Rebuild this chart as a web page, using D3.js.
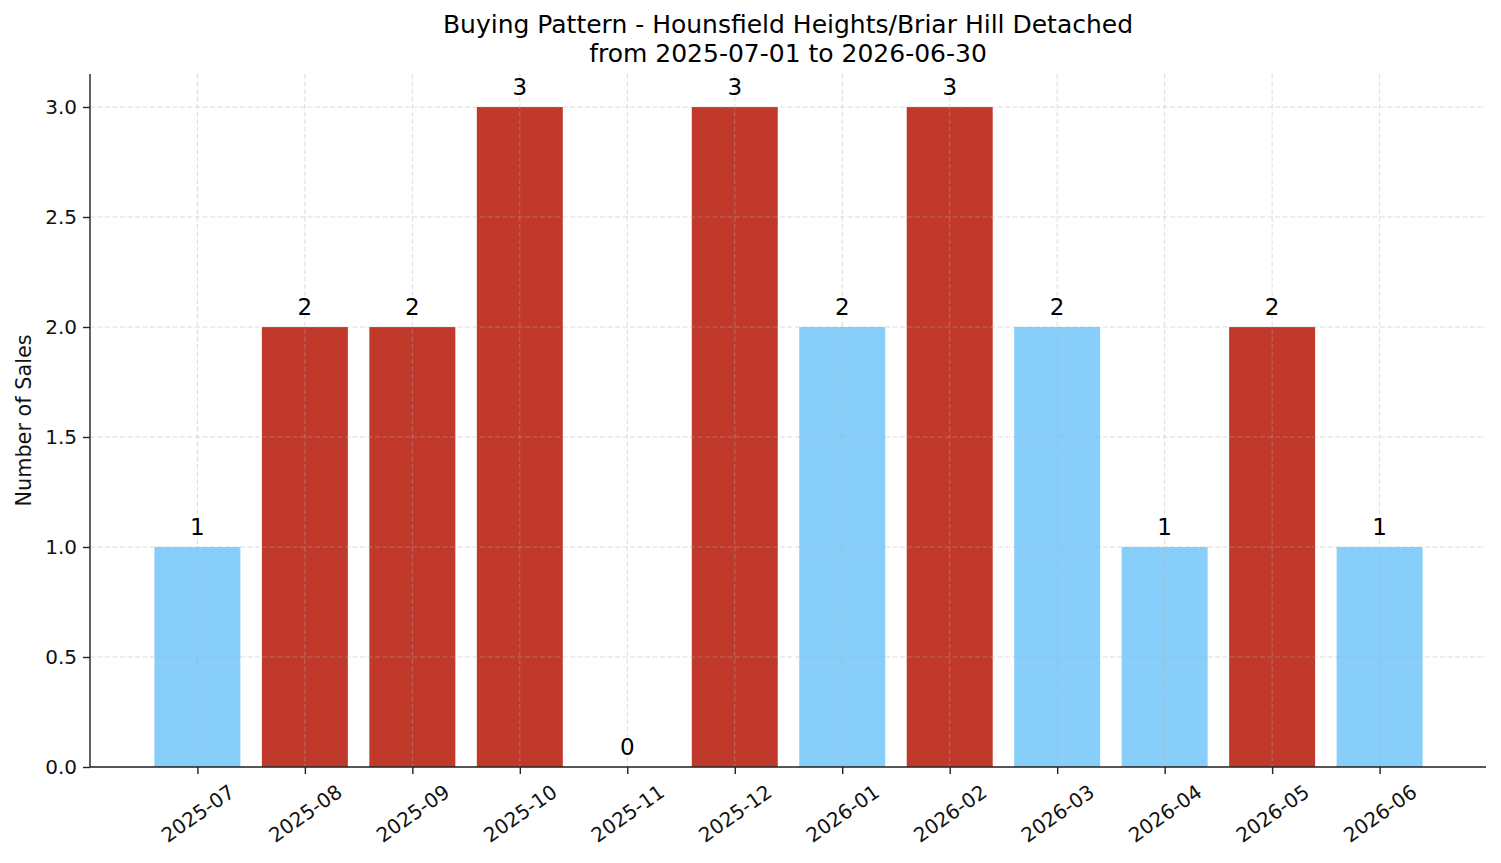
<!DOCTYPE html>
<html>
<head>
<meta charset="utf-8">
<script src="https://cdn.jsdelivr.net/npm/d3@7"></script>
<style>
  body { margin: 0; background: #fff; }
  svg { font-family: "DejaVu Sans", sans-serif; }
</style>
</head>
<body>
<div id="wrapper"></div>
<script>
const months = ["2025-07","2025-08","2025-09","2025-10","2025-11","2025-12",
                "2026-01","2026-02","2026-03","2026-04","2026-05","2026-06"]
const sales = [1, 2, 2, 3, 0, 3, 2, 3, 2, 1, 2, 1]
const barColors = ["#87cefa","#c0392b","#c0392b","#c0392b","#c0392b","#c0392b",
                   "#87cefa","#c0392b","#87cefa","#87cefa","#c0392b","#87cefa"]
const yTicks = [0, 0.5, 1, 1.5, 2, 2.5, 3]
const titleLines = ["Buying Pattern - Hounsfield Heights/Briar Hill Detached",
                    "from 2025-07-01 to 2026-06-30"]
const yLabel = "Number of Sales"

function drawBarChart() {
    let dimensions = {
        width: 1501,
        height: 863,
        margin: { top: 74, right: 15, bottom: 96, left: 90 },
    }
    dimensions.boundedWidth = dimensions.width - dimensions.margin.left - dimensions.margin.right
    dimensions.boundedHeight = dimensions.height - dimensions.margin.top - dimensions.margin.bottom
    const tickFont = 20

    const wrapper = d3.select("#wrapper")
        .append("svg")
            .attr("width", dimensions.width)
            .attr("height", dimensions.height)
    const bounds = wrapper.append("g")
        .attr("transform", `translate(${dimensions.margin.left},${dimensions.margin.top})`)

    // scales (matplotlib-style margins)
    const n = months.length
    const barWidth = 0.8
    const span = (n - 1) + barWidth
    const xScale = d3.scaleLinear()
        .domain([-barWidth / 2 - span * 0.05, n - 1 + barWidth / 2 + span * 0.05])
        .range([1, dimensions.boundedWidth])
    const yScale = d3.scaleLinear()
        .domain([0, d3.max(sales) * 1.05])
        .range([dimensions.boundedHeight, 0])

    // bars
    const pxPerUnit = xScale(1) - xScale(0)
    bounds.append("g").selectAll("rect")
        .data(sales)
        .join("rect")
            .attr("x", (d, i) => xScale(i - barWidth / 2))
            .attr("width", barWidth * pxPerUnit)
            .attr("y", d => yScale(d))
            .attr("height", d => yScale(0) - yScale(d))
            .attr("fill", (d, i) => barColors[i])

    // grid (drawn above bars like matplotlib default)
    const grid = bounds.append("g")
        .attr("stroke", "#b0b0b0")
        .attr("stroke-opacity", 0.55)
        .attr("stroke-width", 0.8)
        .attr("stroke-dasharray", "5,2.5")
    grid.selectAll(".gx").data(d3.range(n)).join("line")
        .attr("x1", d => xScale(d)).attr("x2", d => xScale(d))
        .attr("y1", 0).attr("y2", dimensions.boundedHeight)
    grid.selectAll(".gy").data(yTicks).join("line")
        .attr("y1", d => yScale(d)).attr("y2", d => yScale(d))
        .attr("x1", 0).attr("x2", dimensions.boundedWidth)

    // bar labels
    bounds.append("g").selectAll("text")
        .data(sales)
        .join("text")
            .attr("x", (d, i) => xScale(i))
            .attr("y", d => yScale(d) - 12.5)
            .attr("text-anchor", "middle")
            .attr("font-size", 23)
            .attr("fill", "#000")
            .text(d => d)

    // axes
    const yAxis = bounds.append("g")
        .call(d3.axisLeft(yScale).tickValues(yTicks).tickFormat(d3.format(".1f"))
            .tickSize(7).tickPadding(6))
    const xAxis = bounds.append("g")
        .attr("transform", `translate(0,${dimensions.boundedHeight})`)
        .call(d3.axisBottom(xScale).tickValues(d3.range(n)).tickFormat(i => months[i])
            .tickSize(7).tickPadding(7))
    ;[xAxis, yAxis].forEach(ax => {
        ax.select(".domain").attr("stroke", "#222").attr("stroke-width", 1.4)
        ax.selectAll(".tick line").attr("stroke", "#222").attr("stroke-width", 1.4)
        ax.selectAll(".tick text").attr("font-size", tickFont).attr("fill", "#111")
            .attr("font-family", "DejaVu Sans")
    })
    // clean up the domain ends (no outer ticks)
    yAxis.select(".domain").attr("d", `M0,${dimensions.boundedHeight}V0`)
    xAxis.select(".domain").attr("d", `M0,0H${dimensions.boundedWidth}`)

    // rotate x labels, matplotlib center-aligned bbox under tick
    const angle = 35
    const rad = angle * Math.PI / 180
    xAxis.selectAll(".tick text").each(function () {
        const t = d3.select(this)
        const w = this.getComputedTextLength()
        const h = tickFont * 1.16
        const bboxH = w * Math.sin(rad) + h * Math.cos(rad)
        const cy = 7 + 6 + bboxH / 2
        t.attr("y", 0).attr("dy", "0.35em")
         .attr("text-anchor", "middle")
         .attr("transform", `translate(0,${cy}) rotate(${-angle})`)
    })

    // y label
    wrapper.append("text")
        .attr("transform", `translate(31,${dimensions.margin.top + dimensions.boundedHeight / 2}) rotate(-90)`)
        .attr("text-anchor", "middle")
        .attr("font-size", 20.8)
        .attr("fill", "#111")
        .text(yLabel)

    // title
    wrapper.append("g").selectAll("text")
        .data(titleLines)
        .join("text")
            .attr("x", dimensions.margin.left + dimensions.boundedWidth / 2)
            .attr("y", (d, i) => 33 + i * 29)
            .attr("text-anchor", "middle")
            .attr("font-size", 25)
            .attr("fill", "#000")
            .text(d => d)
}
drawBarChart()
</script>
</body>
</html>
